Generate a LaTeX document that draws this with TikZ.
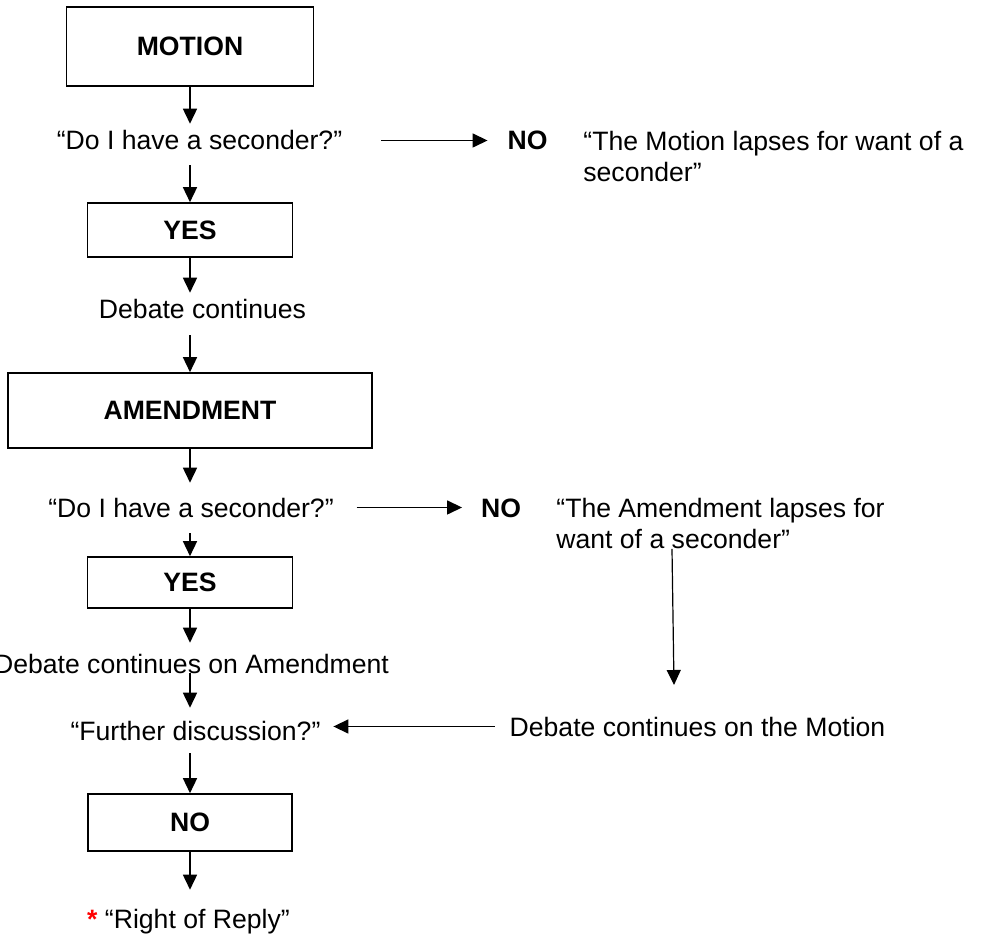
\documentclass[tikz,border=0pt]{standalone}
\usepackage{fontspec}
\setmainfont{Liberation Sans}
\usetikzlibrary{arrows.meta,calc}
\newcommand\chartsize{\fontsize{13.3}{15.5}\selectfont}
\tikzset{
  box/.style={draw, line width=0.8pt, inner sep=0pt, font=\chartsize\bfseries},
  txt/.style={inner sep=3.3pt, font=\chartsize},
  bold/.style={inner sep=3.3pt, font=\chartsize\bfseries},
  arr/.style={line width=0.75pt, -{Triangle[length=7.5pt,width=7pt]}}
}
\begin{document}
\begin{tikzpicture}[x=0.5pt,y=-0.5pt]
\useasboundingbox (0,0) rectangle (981,936);

\node[box, minimum width=123.5pt, minimum height=39.5pt] (motion) at (190,46.5) {MOTION};
\node[txt, anchor=base] (sec1) at (199.5,150) {“Do I have a seconder?”};
\node[bold, anchor=base] (no1) at (527.5,150) {NO};
\node[txt, inner sep=0pt, align=left, anchor=north west] (lapse1) at (583,130.6)
     {“The Motion lapses for want of a\\seconder”};
\node[box, minimum width=102.5pt, minimum height=27pt] (yes1) at (190,230) {YES};
\node[txt, anchor=base] (deb1) at (202.5,319) {Debate continues};

\node[box, minimum width=182pt, minimum height=37.5pt] (amend) at (190,410.5) {AMENDMENT};
\node[txt, anchor=base] (sec2) at (191,517) {“Do I have a seconder?”};
\node[bold, anchor=base] (no2) at (501,517) {NO};
\node[txt, inner sep=0pt, align=left, anchor=north west] (lapse2) at (556,497.6)
     {“The Amendment lapses for\\want of a seconder”};
\node[box, minimum width=102.5pt, minimum height=25.5pt] (yes2) at (190,582.5) {YES};
\node[txt, anchor=base] (deb2) at (191.5,673) {Debate continues on Amendment};
\node[txt, anchor=base] (further) at (195.5,740) {“Further discussion?”};
\node[txt, anchor=base] (deb3) at (697.5,736) {Debate continues on the Motion};
\node[box, minimum width=102pt, minimum height=28.5pt] (no3) at (190,822.5) {NO};
\node[txt, anchor=base] (reply) at (188.5,928) {{\color{red}\bfseries*} “Right of Reply”};
\coordinate (drop) at (674,685);

\draw[arr] (motion.south) -- (motion.south |- sec1.north);
\draw[arr, shorten <=4pt] (sec1.south -| yes1.north) -- (yes1.north);
\draw[arr, shorten <=16pt, shorten >=6.5pt] (sec1.east) -- (sec1.east -| no1.west);
\draw[arr] (yes1.south) -- (yes1.south |- deb1.north);
\draw[arr, shorten <=4.5pt] (deb1.south -| amend.north) -- (amend.north);
\draw[arr, shorten >=4pt] (amend.south) -- (amend.south |- sec2.north);
\draw[arr, shorten <=8pt, shorten >=6pt] (sec2.east) -- (sec2.east -| no2.west);
\draw[arr, shorten <=4.5pt] (sec2.south -| yes2.north) -- (yes2.north);
\draw[arr, shorten >=2pt] (yes2.south) -- (yes2.south |- deb2.north);
\draw[arr, shorten >=3pt] (deb2.base -| yes2.south) -- (further.north -| yes2.south);
\draw[arr, line width=0.6pt] ($(lapse2.south -| drop)+(-2,0)$) -- (drop);
\draw[arr, shorten <=4pt, shorten >=3pt] (deb3.west) -- (deb3.west -| further.east);
\draw[arr, shorten <=3pt] (further.south -| no3.north) -- (no3.north);
\draw[arr, shorten >=6pt] (no3.south) -- (no3.south |- reply.north);

\end{tikzpicture}
\end{document}
